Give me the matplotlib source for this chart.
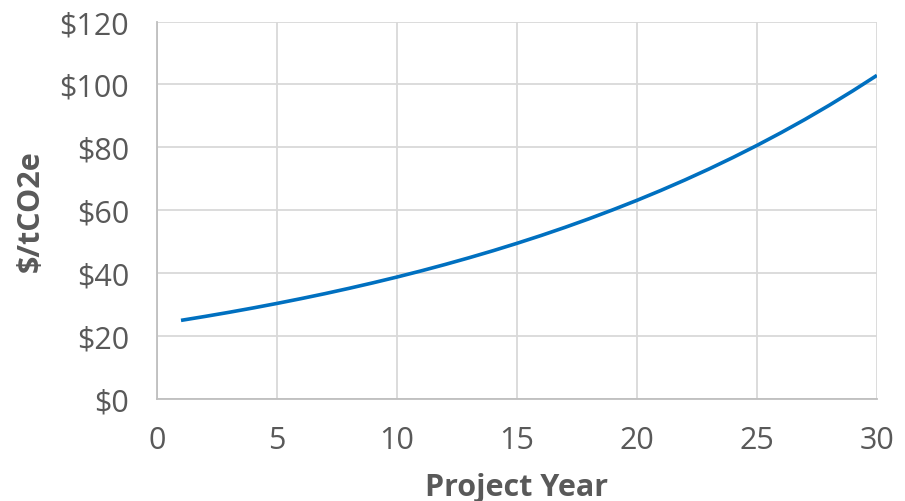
import matplotlib.pyplot as plt

# Carbon price path by project year
years = list(range(1, 31))
price = [25.00, 26.25, 27.56, 28.94, 30.39, 31.91, 33.50, 35.18, 36.94, 38.78,
         40.72, 42.76, 44.90, 47.14, 49.50, 51.97, 54.57, 57.30, 60.17, 63.17,
         66.33, 69.65, 73.13, 76.79, 80.63, 84.66, 88.89, 93.34, 98.01, 102.90]

x_ticks = [0, 5, 10, 15, 20, 25, 30]
y_ticks = [0, 20, 40, 60, 80, 100, 120]
y_labels = ['$' + str(v) for v in y_ticks]

text_color = '#595959'
grid_color = '#d9d9d9'

plt.rcParams['font.family'] = ['Open Sans', 'DejaVu Sans']

fig = plt.figure(figsize=(9.05, 5.02), dpi=100)
ax = fig.add_axes([0.1735, 0.2032, 0.7955, 0.7518])

ax.plot(years, price, color='#0070c0', linewidth=2.6, solid_capstyle='butt')

ax.set_xlim(0, 30)
ax.set_ylim(0, 120)
ax.set_xticks(x_ticks)
ax.set_yticks(y_ticks)
ax.set_yticklabels(y_labels)
ax.tick_params(length=0, labelsize=22, colors=text_color)
ax.tick_params(axis='y', pad=20)
ax.tick_params(axis='x', pad=19)

ax.grid(True, color=grid_color, linewidth=1.3)
ax.set_axisbelow(True)
for side in ['top', 'right']:
    ax.spines[side].set_visible(False)
for side in ['left', 'bottom']:
    ax.spines[side].set_color('#bfbfbf')
    ax.spines[side].set_linewidth(1.3)

ax.set_xlabel('Project Year', fontsize=22, fontweight='bold', color=text_color, labelpad=12)
ax.set_ylabel('$/tCO2e', fontsize=22, fontweight='bold', color=text_color, labelpad=10)

fig.savefig('out.png', dpi=100)
